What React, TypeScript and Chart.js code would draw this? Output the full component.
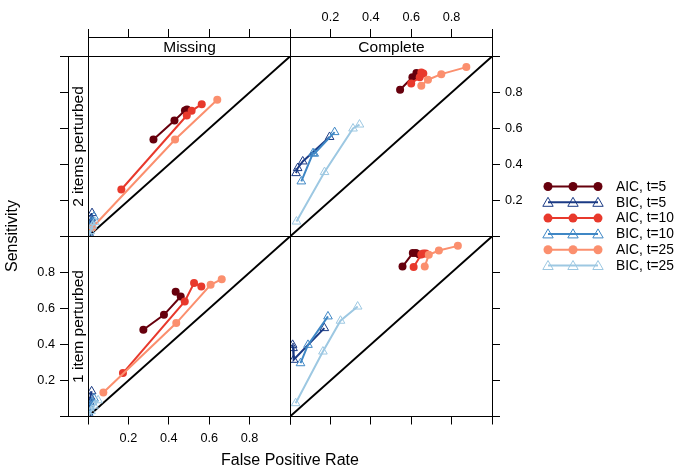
import React, { useEffect, useRef } from "react";
import { Chart, registerables } from "chart.js";

Chart.register(...registerables);

// ---------------- data ----------------
const SERIES = ["AIC, t=5", "BIC, t=5", "AIC, t=10", "BIC, t=10", "AIC, t=25", "BIC, t=25"];
const COLUMNS = ["Missing", "Complete"];
const ROWS = ["2 items perturbed", "1 item perturbed"];
const TICKS = [0, 0.2, 0.4, 0.6, 0.8, 1];
const TICK_LABELS = ["", "0.2", "0.4", "0.6", "0.8", ""];
const DIAGONAL_X = [0, 1];
const DIAGONAL_Y = [0, 1];

// Missing, 2 items perturbed
const missing2FPR = [
  [0.324, 0.428, 0.48, 0.49],
  [0.005, 0.01, 0.015, 0.02],
  [0.165, 0.489, 0.513, 0.563],
  [0.005, 0.01, 0.02, 0.03],
  [0.022, 0.431, 0.64],
  [0.005, 0.012, 0.022, 0.035],
];
const missing2Sens = [
  [0.539, 0.644, 0.7, 0.706],
  [0.02, 0.07, 0.1, 0.13],
  [0.261, 0.672, 0.698, 0.735],
  [0.01, 0.05, 0.08, 0.11],
  [0.05, 0.539, 0.76],
  [0.005, 0.03, 0.06, 0.08],
];

// Complete, 2 items perturbed
const complete2FPR = [
  [0.545, 0.606, 0.626, 0.64],
  [0.03, 0.038, 0.063, 0.196],
  [0.6, 0.642, 0.65, 0.66],
  [0.056, 0.114, 0.12, 0.221],
  [0.65, 0.683, 0.749, 0.873],
  [0.032, 0.171, 0.312, 0.344],
];
const complete2Sens = [
  [0.815, 0.885, 0.908, 0.9],
  [0.352, 0.38, 0.417, 0.553],
  [0.85, 0.885, 0.911, 0.905],
  [0.306, 0.463, 0.46, 0.58],
  [0.837, 0.871, 0.902, 0.941],
  [0.083, 0.358, 0.6, 0.622],
];

// Missing, 1 item perturbed
const missing1FPR = [
  [0.274, 0.376, 0.459, 0.434],
  [0.003, 0.008, 0.012, 0.018],
  [0.173, 0.479, 0.525, 0.561],
  [0.005, 0.01, 0.02, 0.03],
  [0.076, 0.437, 0.607, 0.662],
  [0.005, 0.015, 0.03, 0.05],
];
const missing1Sens = [
  [0.482, 0.565, 0.667, 0.693],
  [0.02, 0.08, 0.11, 0.14],
  [0.241, 0.639, 0.741, 0.722],
  [0.01, 0.05, 0.08, 0.1],
  [0.133, 0.519, 0.732, 0.763],
  [0.005, 0.03, 0.06, 0.09],
];

// Complete, 1 item perturbed
const complete1FPR = [
  [0.557, 0.608, 0.623, 0.64],
  [0.013, 0.015, 0.018, 0.17],
  [0.612, 0.65, 0.672, 0.66],
  [0.052, 0.089, 0.188],
  [0.667, 0.687, 0.737, 0.831],
  [0.028, 0.163, 0.25, 0.335],
];
const complete1Sens = [
  [0.833, 0.908, 0.908, 0.9],
  [0.398, 0.38, 0.315, 0.491],
  [0.83, 0.9, 0.906, 0.905],
  [0.296, 0.398, 0.556],
  [0.833, 0.898, 0.922, 0.948],
  [0.074, 0.361, 0.532, 0.611],
];

const PANEL_FPR = [[missing2FPR, complete2FPR], [missing1FPR, complete1FPR]];
const PANEL_SENS = [[missing2Sens, complete2Sens], [missing1Sens, complete1Sens]];

// ---------------- styles / layout ----------------
const COLORS = ["#67000D", "#1A3A84", "#E8392C", "#3F87C5", "#FB8F6E", "#9DC8E2"];
const FONT = '"Liberation Sans", Arial, Helvetica, sans-serif';
const W = 686;
const H = 471;
const PANEL_X = [88, 290, 492];
const PANEL_Y = [56.5, 236.5, 416.5];
const STRIP_TOP = 37;
const STRIP_LEFT = 68;
const X_AXIS_H = 30;
const Y_AXIS_W = 50;

function align(v: number) {
  return Math.round(v - 0.5) + 0.5;
}

function drawMarker(ctx: CanvasRenderingContext2D, style: string, x: number, y: number, r: number, color: string) {
  ctx.beginPath();
  if (style === "circle") {
    ctx.arc(x, y, r, 0, Math.PI * 2);
    ctx.fillStyle = color;
    ctx.fill();
  } else {
    let rad = 0;
    ctx.moveTo(x + Math.sin(rad) * r, y - Math.cos(rad) * r);
    rad += (2 * Math.PI) / 3;
    ctx.lineTo(x + Math.sin(rad) * r, y - Math.cos(rad) * r);
    rad += (2 * Math.PI) / 3;
    ctx.lineTo(x + Math.sin(rad) * r, y - Math.cos(rad) * r);
    ctx.closePath();
    ctx.strokeStyle = color;
    ctx.lineWidth = 1;
    ctx.stroke();
  }
}

const globalPlugin = {
  id: "globalDecor",
  afterDraw(chart: any) {
    const ctx: CanvasRenderingContext2D = chart.ctx;
    ctx.save();
    ctx.fillStyle = "#000";
    ctx.font = `16px ${FONT}`;
    ctx.textAlign = "center";
    ctx.textBaseline = "middle";
    ctx.fillText("False Positive Rate", 290, 461);
    ctx.save();
    ctx.translate(13, 236);
    ctx.rotate(-Math.PI / 2);
    ctx.fillText("Sensitivity", 0, 0);
    ctx.restore();

    // legend
    const y0 = 186.5;
    const step = 15.8;
    SERIES.forEach((name, i) => {
      const y = y0 + i * step;
      const isAIC = name.startsWith("AIC");
      ctx.strokeStyle = COLORS[i];
      ctx.lineWidth = 2;
      ctx.beginPath();
      ctx.moveTo(548, y);
      ctx.lineTo(598, y);
      ctx.stroke();
      [548, 573, 598].forEach((mx) =>
        drawMarker(ctx, isAIC ? "circle" : "triangle", mx, y + (isAIC ? 0 : 1), isAIC ? 4.5 : 6, COLORS[i])
      );
      ctx.fillStyle = "#000";
      ctx.font = `13.8px ${FONT}`;
      ctx.textAlign = "left";
      ctx.textBaseline = "middle";
      ctx.fillText(name, 616, y + 0.5);
    });
    ctx.restore();
  },
};

function makeConfig(row: number, col: number): any {
  const isTop = row === 0;
  const isLeft = col === 0;
  const x0 = PANEL_X[col];
  const x1 = PANEL_X[col + 1];
  const yT = PANEL_Y[row];
  const yB = PANEL_Y[row + 1];
  const pw = x1 - x0;
  const ph = yB - yT;
  const areaLeft = isLeft ? STRIP_LEFT : x0;
  const areaTop = isTop ? STRIP_TOP : yT;
  const xMin = -(x0 - areaLeft) / pw;
  const yMax = 1 + (yT - areaTop) / ph;
  const showX = isTop !== isLeft;
  const showY = isTop !== isLeft;
  const fpr = PANEL_FPR[row][col];
  const sens = PANEL_SENS[row][col];

  const padding = {
    left: isLeft ? areaLeft - Y_AXIS_W : x0,
    right: isLeft ? W - x1 : W - x1 - Y_AXIS_W,
    top: isTop ? areaTop - X_AXIS_H : yT,
    bottom: isTop ? H - yB : H - yB - X_AXIS_H,
  };

  const clip = { left: -(x0 - areaLeft), top: -(yT - areaTop), right: 0, bottom: 0 };

  const datasets: any[] = [
    {
      label: "diagonal",
      data: DIAGONAL_X.map((x, j) => ({ x, y: DIAGONAL_Y[j] })),
      borderColor: "#000",
      borderWidth: 2,
      pointRadius: 0,
      order: 100,
      clip,
    },
    ...SERIES.map((name, i) => {
      const isAIC = name.startsWith("AIC");
      return {
        label: name,
        data: fpr[i].map((x, j) => ({ x, y: sens[i][j] })),
        borderColor: COLORS[i],
        borderWidth: 2,
        pointStyle: isAIC ? "circle" : "triangle",
        pointRadius: isAIC ? 4 : 5,
        pointBackgroundColor: isAIC ? COLORS[i] : "rgba(0,0,0,0)",
        pointBorderColor: COLORS[i],
        pointBorderWidth: isAIC ? 0 : 1,
        order: 10 - i,
        clip,
      };
    }),
  ];

  const latticePlugin = {
    id: "lattice" + row + col,
    afterDraw(chart: any) {
      const ctx: CanvasRenderingContext2D = chart.ctx;
      const xs = chart.scales.x;
      const ys = chart.scales.y;
      const L = align(xs.getPixelForValue(0));
      const R = align(xs.getPixelForValue(1));
      const T = align(ys.getPixelForValue(1));
      const B = align(ys.getPixelForValue(0));
      const ca = chart.chartArea;
      ctx.save();
      ctx.strokeStyle = "#000";
      ctx.lineWidth = 1;
      ctx.strokeRect(L, T, R - L, B - T);
      ctx.fillStyle = "#000";
      ctx.font = `15.5px ${FONT}`;
      ctx.textAlign = "center";
      ctx.textBaseline = "middle";
      if (isTop) {
        const st = align(ca.top);
        ctx.strokeRect(L, st, R - L, T - st);
        ctx.fillText(COLUMNS[col], (L + R) / 2, (st + T) / 2 + 0.5);
      }
      if (isLeft) {
        const sl = align(ca.left);
        ctx.strokeRect(sl, T, L - sl, B - T);
        ctx.save();
        ctx.translate((sl + L) / 2 + 0.5, (T + B) / 2);
        ctx.rotate(-Math.PI / 2);
        ctx.fillText(ROWS[row], 0, 0);
        ctx.restore();
      }
      ctx.restore();
    },
  };

  const tickFont = { family: FONT, size: 12.7 };

  return {
    type: "line",
    data: { datasets },
    options: {
      animation: false,
      responsive: false,
      devicePixelRatio: 1,
      parsing: true,
      layout: { padding },
      plugins: { legend: { display: false }, tooltip: { enabled: false }, title: { display: false } },
      elements: { line: { tension: 0 } },
      scales: {
        x: {
          type: "linear",
          position: isTop ? "top" : "bottom",
          min: xMin,
          max: 1,
          afterBuildTicks: (s: any) => {
            s.ticks = TICKS.map((v) => ({ value: v }));
          },
          afterFit: (s: any) => {
            s.height = X_AXIS_H;
          },
          ticks: {
            autoSkip: false,
            maxRotation: 0,
            minRotation: 0,
            padding: isTop ? 4 : 6,
            color: "#000",
            font: tickFont,
            callback: (_v: any, i: number) => (showX ? TICK_LABELS[i] : ""),
          },
          grid: { drawOnChartArea: false, drawTicks: true, tickLength: 8, tickColor: "#000", tickWidth: 1, color: "#000" },
          border: { display: false },
        },
        y: {
          type: "linear",
          position: isLeft ? "left" : "right",
          min: 0,
          max: yMax,
          afterBuildTicks: (s: any) => {
            s.ticks = TICKS.map((v) => ({ value: v }));
          },
          afterFit: (s: any) => {
            s.width = Y_AXIS_W;
          },
          ticks: {
            autoSkip: false,
            padding: 5,
            color: "#000",
            font: tickFont,
            callback: (_v: any, i: number) => (showY ? TICK_LABELS[i] : ""),
          },
          grid: { drawOnChartArea: false, drawTicks: true, tickLength: 8, tickColor: "#000", tickWidth: 1, color: "#000" },
          border: { display: false },
        },
      },
    },
    plugins: row === 1 && col === 0 ? [latticePlugin, globalPlugin] : [latticePlugin],
  };
}

const PANELS = [
  [0, 0],
  [0, 1],
  [1, 0],
  [1, 1],
];

export default function App() {
  const refs = useRef<(HTMLCanvasElement | null)[]>([]);

  useEffect(() => {
    const charts = PANELS.map(([r, c], k) => {
      const canvas = refs.current[k] as HTMLCanvasElement;
      return new Chart(canvas, makeConfig(r, c));
    });
    return () => charts.forEach((ch) => ch.destroy());
  }, []);

  return (
    <div style={{ position: "absolute", left: 0, top: 0, width: W, height: H, background: "#fff" }}>
      {PANELS.map((_p, k) => (
        <canvas
          key={k}
          ref={(el) => {
            refs.current[k] = el;
          }}
          width={W}
          height={H}
          style={{ position: "absolute", left: 0, top: 0, width: W, height: H }}
        />
      ))}
    </div>
  );
}
